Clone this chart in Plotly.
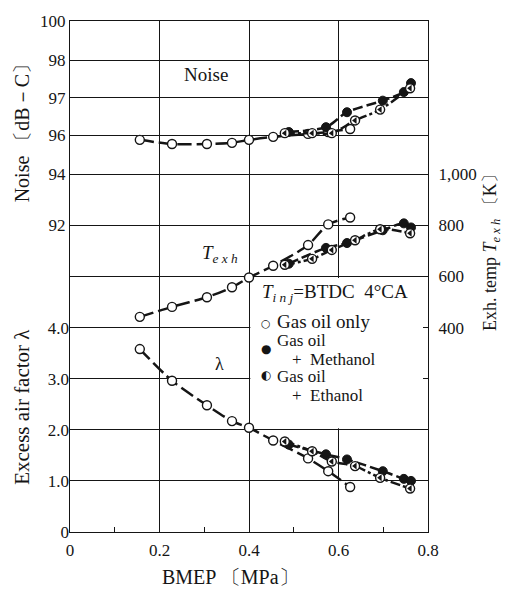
import plotly.graph_objects as go

# ---------------- data ----------------
x_gas = [0.156, 0.228, 0.306, 0.362, 0.400, 0.454, 0.532, 0.577, 0.626]
noise_gas = [95.87, 95.76, 95.76, 95.79, 95.87, 95.95, 96.03, 96.08, 96.16]
texh_gas = [442, 481, 519, 558, 596, 642, 723, 804, 831]
lam_gas = [3.58, 2.96, 2.48, 2.17, 2.04, 1.79, 1.44, 1.19, 0.88]

x_met = [0.489, 0.572, 0.619, 0.699, 0.746, 0.762]
noise_met = [96.08, 96.21, 96.61, 96.92, 97.15, 97.39]
texh_met = [650, 712, 731, 781, 808, 792]
lam_met = [1.71, 1.52, 1.42, 1.19, 1.04, 1.00]

x_eth = [0.480, 0.541, 0.585, 0.637, 0.693, 0.760]
noise_eth = [96.05, 96.05, 96.05, 96.39, 96.68, 97.25]
texh_eth = [646, 669, 704, 742, 785, 769]
lam_eth = [1.77, 1.58, 1.38, 1.29, 1.06, 0.85]

x_ticks = [0, 0.2, 0.4, 0.6, 0.8]
x_ticktext = ["0", "0.2", "0.4", "0.6", "0.8"]
# noise axis (broken scale in the original): label positions
noise_tickvals = [99.053, 98, 97, 96, 94.947, 93.579]
noise_ticktext = ["100", "98", "97", "96", "94", "92"]
lam_tickvals = [0, 1, 2, 3, 4, 5, 6]
lam_ticktext = ["0", "1.0", "2.0", "3.0", "4.0", " ", " "]
texh_tickvals = [200, 400, 600, 800, 1000]
texh_ticktext = [" ", "400", "600", "800", "1,000"]

NOISE_RANGE = [85.368, 99.053]
LAM_RANGE = [0, 10]
TEXH_RANGE = [-400, 1600]

SERIF = "Liberation Serif, Noto Serif, serif"
INK = "#151515"
LW = 2.5

fig = go.Figure()

def add_series(x, y, axis, kind):
    if kind == "gas":
        fig.add_trace(go.Scatter(
            x=x, y=y, yaxis=axis, mode="lines+markers",
            line=dict(color=INK, width=LW, dash="14px,5px", shape="spline", smoothing=0.8),
            marker=dict(symbol="circle", size=9, color="white",
                        line=dict(color=INK, width=1.4)),
            showlegend=False, cliponaxis=False))
    elif kind == "met":
        fig.add_trace(go.Scatter(
            x=x, y=y, yaxis=axis, mode="lines+markers",
            line=dict(color=INK, width=LW, dash="10px,4px", shape="spline", smoothing=0.8),
            marker=dict(symbol="circle", size=9, color=INK,
                        line=dict(color=INK, width=1)),
            showlegend=False, cliponaxis=False))
    else:
        fig.add_trace(go.Scatter(
            x=x, y=y, yaxis=axis, mode="lines",
            line=dict(color=INK, width=LW, dash="10px,3px,3px,3px", shape="spline", smoothing=0.8),
            showlegend=False, cliponaxis=False))
        fig.add_trace(go.Scatter(
            x=x, y=y, yaxis=axis, mode="markers",
            marker=dict(symbol="circle", size=9, color="white",
                        line=dict(color=INK, width=1.4)),
            showlegend=False, cliponaxis=False))
        fig.add_trace(go.Scatter(
            x=x, y=y, yaxis=axis, mode="markers",
            marker=dict(symbol="triangle-left", size=6, color=INK,
                        line=dict(width=0)),
            showlegend=False, cliponaxis=False))

for kind, xs, n, t, l in [("gas", x_gas, noise_gas, texh_gas, lam_gas),
                           ("met", x_met, noise_met, texh_met, lam_met),
                           ("eth", x_eth, noise_eth, texh_eth, lam_eth)]:
    add_series(xs, n, "y", kind)
    add_series(xs, t, "y3", kind)
    add_series(xs, l, "y2", kind)

grid = dict(showgrid=True, gridcolor=INK, gridwidth=1.1)

fig.update_layout(
    width=511, height=595,
    margin=dict(l=70, r=83, t=12, b=63),
    paper_bgcolor="white", plot_bgcolor="white",
    font=dict(family=SERIF, size=17, color=INK),
    xaxis=dict(range=[0, 0.8], tickvals=x_ticks, ticktext=x_ticktext,
               ticks="", showline=True, linecolor=INK, linewidth=1.3, mirror=True,
               zeroline=False, ticklabelstandoff=2,
               minor=dict(tickvals=[0.1, 0.3, 0.5, 0.7], ticks="inside",
                          ticklen=5, tickcolor=INK, showgrid=False),
               **grid),
    yaxis=dict(range=NOISE_RANGE, tickvals=noise_tickvals,
               ticktext=noise_ticktext, ticks="", showline=True, linecolor=INK,
               linewidth=1.3, zeroline=False, **grid),
    yaxis2=dict(range=LAM_RANGE, overlaying="y", side="left", anchor="x",
                tickvals=lam_tickvals, ticktext=lam_ticktext, ticks="",
                showline=False, zeroline=False, **grid),
    yaxis3=dict(range=TEXH_RANGE, overlaying="y", side="right", anchor="x",
                tickvals=texh_tickvals, ticktext=texh_ticktext,
                ticks="inside", ticklen=5, tickcolor=INK,
                showline=True, linecolor=INK, linewidth=1.3,
                showgrid=False, zeroline=False, ticklabelstandoff=6),
)

# blank the gridlines behind the legend block (lambda 2..5, BMEP 0.4..0.8),
# expressed on the main (noise) axis so it lives in the base subplot
def lam_to_noise(v):
    f = (v - LAM_RANGE[0]) / (LAM_RANGE[1] - LAM_RANGE[0])
    return NOISE_RANGE[0] + f * (NOISE_RANGE[1] - NOISE_RANGE[0])

fig.add_shape(type="rect", xref="x", yref="y", x0=0.403, x1=0.799,
              y0=lam_to_noise(2.03), y1=lam_to_noise(4.97),
              fillcolor="white", line=dict(width=0), layer="between")

def ann(text, x, y, size=17, xanchor="center", xref="x", yref="y2", angle=0, family=SERIF):
    fig.add_annotation(text=text, x=x, y=y, xref=xref, yref=yref, showarrow=False,
                       xanchor=xanchor, yanchor="middle", textangle=angle,
                       font=dict(family=family, size=size, color=INK))

# in-plot labels
ann("Noise", 0.304, 8.95, size=19)
ann("<i>T</i><sub><i>e x h</i></sub>", 0.335, 5.45, size=19)
ann("λ", 0.335, 3.28, size=18)

# legend block
ann("<i>T</i><sub><i>i n j</i></sub>=BTDC  4°CA", 0.425, 4.68, size=19, xanchor="left")
ann("○", 0.437, 4.08, size=11, family="DejaVu Sans")
ann("Gas oil only", 0.458, 4.11, size=19, xanchor="left")
ann("●", 0.437, 3.58, size=12, family="DejaVu Sans")
ann("Gas oil", 0.458, 3.74, size=17, xanchor="left")
ann("+  Methanol", 0.492, 3.38, size=17, xanchor="left")
ann("◐", 0.437, 3.08, size=12, family="DejaVu Sans")
ann("Gas oil", 0.458, 3.04, size=17, xanchor="left")
ann("+  Ethanol", 0.492, 2.68, size=17, xanchor="left")

# axis titles
ann("Noise 〔dB－C〕", -0.134, 0.79, size=20, xref="paper", yref="paper", angle=-90)
ann("Excess air factor λ", -0.134, 0.245, size=21, xref="paper", yref="paper", angle=-90)
ann("Exh. temp <i>T</i><sub><i>e x h</i></sub> 〔K〕", 1.179, 0.556, size=18,
    xref="paper", yref="paper", angle=-90)
ann("BMEP 〔MPa〕", 0.447, -0.088, size=20, xref="paper", yref="paper")

fig.write_html("out.html")
